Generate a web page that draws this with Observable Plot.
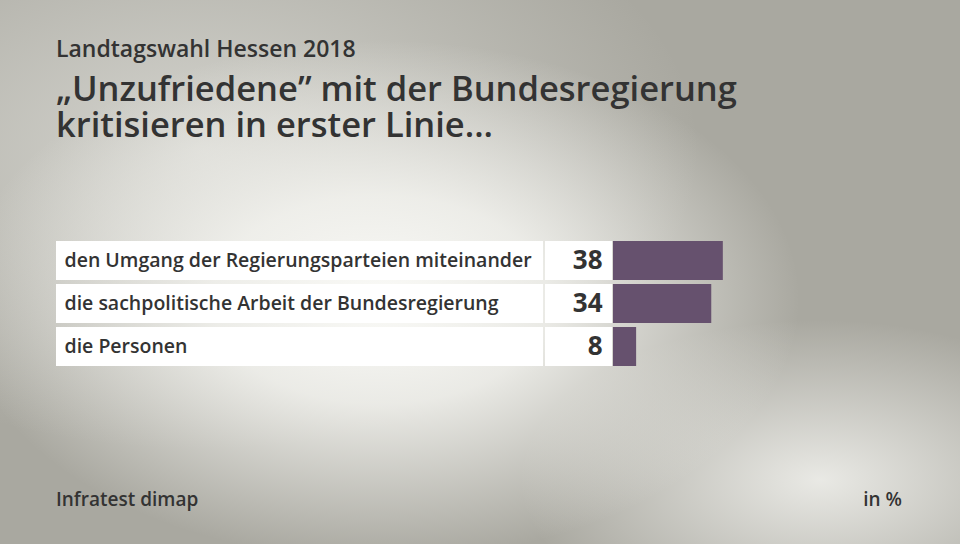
<!DOCTYPE html>
<html>
<head>
<meta charset="utf-8">
<script src="https://cdn.jsdelivr.net/npm/d3@7"></script>
<script src="https://cdn.jsdelivr.net/npm/@observablehq/plot@0.6"></script>
<style>
  html, body { margin: 0; padding: 0; }
  body {
    width: 960px; height: 544px; overflow: hidden; position: relative;
    font-family: "Open Sans", sans-serif; color: #333;
    background:
      radial-gradient(ellipse 420px 260px at 380px 300px, rgba(250,250,247,1) 0%, rgba(245,245,241,0.85) 40%, rgba(240,240,236,0) 100%),
      radial-gradient(ellipse 300px 160px at 820px 480px, rgba(240,240,236,0.9) 0%, rgba(240,240,236,0) 100%),
      radial-gradient(ellipse 500px 300px at 200px 150px, rgba(230,230,225,0.7) 0%, rgba(230,230,225,0) 100%),
      #a9a8a0;
  }
  .t { position: absolute; left: 56px; font-weight: 600; white-space: nowrap; line-height: 1; }
  #sub { top: 37px; font-size: 23px; }
  #title { top: 70px; font-size: 34.5px; line-height: 36px; }
  #src { top: 490px; font-size: 19px; }
  #unit { top: 490px; left: auto; right: 58px; font-size: 19px; }
  #chart { position: absolute; left: 0; top: 0; }
</style>
</head>
<body>
<div class="t" id="sub">Landtagswahl Hessen 2018</div>
<div class="t" id="title">„Unzufriedene” mit der Bundesregierung<br>kritisieren in erster Linie...</div>
<div class="t" id="src">Infratest dimap</div>
<div class="t" id="unit">in %</div>
<div id="chart"></div>
<script>
const categories = [
  "den Umgang der Regierungsparteien miteinander",
  "die sachpolitische Arbeit der Bundesregierung",
  "die Personen"
];
const values = [38, 34, 8];

const data = categories.map((c, i) => ({category: c, value: values[i]}));

const chart = Plot.plot({
  width: 960,
  height: 544,
  marginLeft: 613,
  marginRight: 58,
  marginTop: 240,
  marginBottom: 178,
  x: {domain: [0, 100], axis: null},
  y: {domain: categories, axis: null, paddingInner: 0.1, paddingOuter: 0},
  style: {background: "transparent", fontFamily: "'Open Sans', sans-serif", overflow: "visible"},
  marks: [
    // white label box
    Plot.barX(data, {x1: () => 0, x2: () => 0, y: "category", fill: "white", insetLeft: -557, insetRight: 70}),
    // white number box
    Plot.barX(data, {x1: () => 0, x2: () => 0, y: "category", fill: "white", insetLeft: -68, insetRight: 1}),
    Plot.barX(data, {x: "value", y: "category", fill: "#66516e"}),
    Plot.text(data, {x: () => 0, y: "category", text: "category", dx: -549, textAnchor: "start",
      fontSize: 19.5, fontWeight: 600, fill: "#333"}),
    Plot.text(data, {x: () => 0, y: "category", text: d => String(d.value), dx: -11, textAnchor: "end",
      fontSize: 26, fontWeight: 700, fill: "#333"})
  ]
});
document.getElementById("chart").appendChild(chart);
</script>
</body>
</html>
